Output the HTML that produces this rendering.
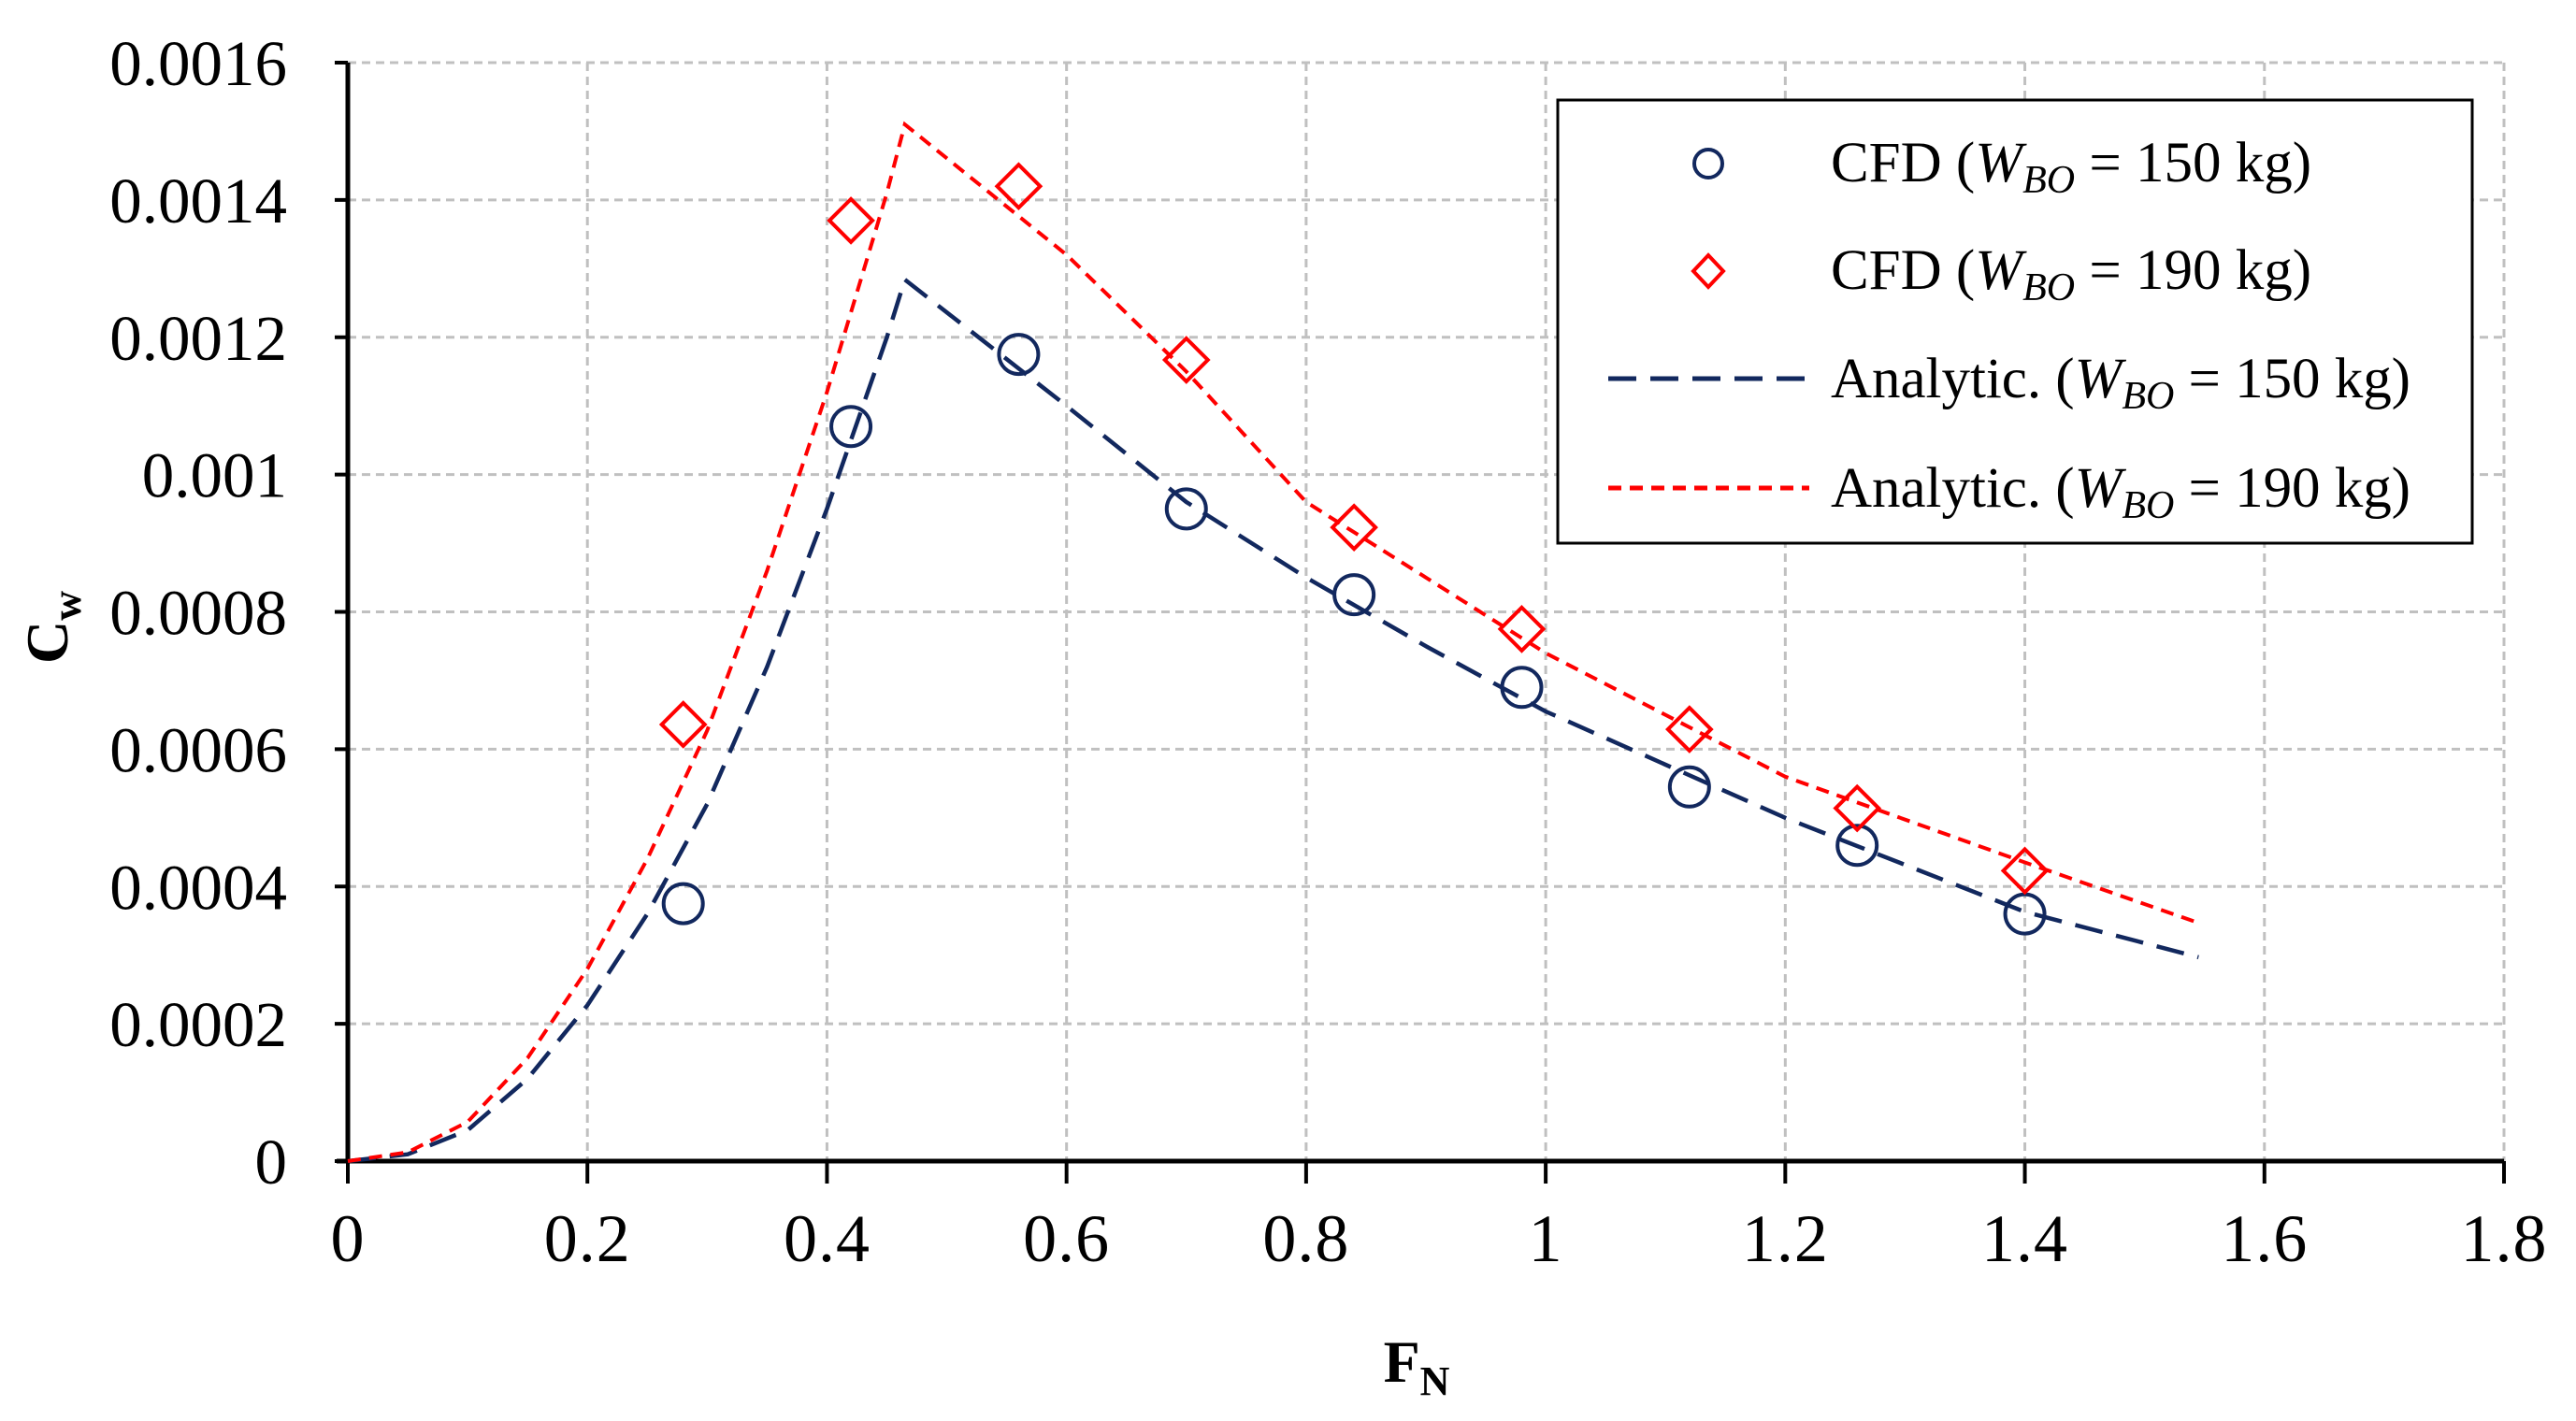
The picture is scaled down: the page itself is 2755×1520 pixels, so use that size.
<!DOCTYPE html>
<html><head><meta charset="utf-8"><style>
html,body{margin:0;padding:0;background:#fff;}
svg{display:block;font-family:"Liberation Serif",serif;}
</style></head><body>
<svg id="chart" width="2755" height="1520" viewBox="0 0 2755 1520" xmlns="http://www.w3.org/2000/svg">
<g id="grid"></g>
<g id="axes"></g>
<g id="series"></g>
<text transform="translate(72,671) rotate(-90)" text-anchor="middle" font-size="64" font-weight="bold">C<tspan font-size="44" dy="14">w</tspan></text>
<text x="1515" y="1478" text-anchor="middle" font-size="64" font-weight="bold">F<tspan font-size="44" dy="14">N</tspan></text>
<g>
<rect x="1666" y="107" width="978" height="474" fill="#fff" stroke="#000" stroke-width="3"/>
<g>
<circle cx="1827" cy="175" r="15" fill="none" stroke="#12285e" stroke-width="4"/>
<text x="1958" y="194" font-size="61">CFD (<tspan font-style="italic">W</tspan><tspan font-style="italic" font-size="42" dy="12">BO</tspan><tspan dy="-12"> = 150 kg)</tspan></text></g>
<g>
<polygon points="1827,273 1843,290 1827,307 1811,290" fill="none" stroke="#ff0000" stroke-width="4"/>
<text x="1958" y="309" font-size="61">CFD (<tspan font-style="italic">W</tspan><tspan font-style="italic" font-size="42" dy="12">BO</tspan><tspan dy="-12"> = 190 kg)</tspan></text></g>
<g>
<line x1="1720" y1="405" x2="1935" y2="405" stroke="#12285e" stroke-width="5" stroke-dasharray="30,15"/>
<text x="1958" y="425" font-size="61" textLength="620" lengthAdjust="spacing">Analytic. (<tspan font-style="italic">W</tspan><tspan font-style="italic" font-size="42" dy="12">BO</tspan><tspan dy="-12"> = 150 kg)</tspan></text></g>
<g>
<line x1="1720" y1="522" x2="1935" y2="522" stroke="#ff0000" stroke-width="5" stroke-dasharray="14,9"/>
<text x="1958" y="542" font-size="61" textLength="620" lengthAdjust="spacing">Analytic. (<tspan font-style="italic">W</tspan><tspan font-style="italic" font-size="42" dy="12">BO</tspan><tspan dy="-12"> = 190 kg)</tspan></text></g>
</g>
</svg>
<script>
const xTicks=[0,0.2,0.4,0.6,0.8,1,1.2,1.4,1.6,1.8];
const xTickLabels=["0","0.2","0.4","0.6","0.8","1","1.2","1.4","1.6","1.8"];
const yTicks=[0,0.0002,0.0004,0.0006,0.0008,0.001,0.0012,0.0014,0.0016];
const yTickLabels=["0","0.0002","0.0004","0.0006","0.0008","0.001","0.0012","0.0014","0.0016"];
const cfdX=[0.28,0.42,0.56,0.70,0.84,0.98,1.12,1.26,1.40];
const cfd150=[0.000375,0.00107,0.001175,0.00095,0.000825,0.00069,0.000545,0.00046,0.00036];
const cfd190=[0.000636,0.00137,0.00142,0.001167,0.000923,0.000775,0.000629,0.000514,0.000423];
const anaX=[0,0.05,0.1,0.15,0.2,0.25,0.3,0.35,0.4,0.45,0.465,0.6,0.7,0.8,0.9,1.0,1.2,1.4,1.545];
const ana150=[0,0.00001,0.000045,0.00012,0.000227,0.00036,0.00052,0.00072,0.00095,0.0012,0.001284,0.0011,0.00096,0.00085,0.00075,0.000655,0.0005,0.000363,0.000297];
const ana190=[0,0.000013,0.000057,0.00015,0.00028,0.00044,0.000627,0.00086,0.00112,0.00141,0.00151,0.00132,0.00115,0.00096,0.00085,0.00074,0.00056,0.000435,0.000347];
const X0=372,X1=2678,Y0=1242,Y1=67;
function sx(v){return X0+(v-0)/(1.8-0)*(X1-X0);}
function sy(v){return Y0-(v-0)/(0.0016-0)*(Y0-Y1);}
const NS="http://www.w3.org/2000/svg";
function mk(tag,attrs,parent){const e=document.createElementNS(NS,tag);for(const k in attrs)e.setAttribute(k,attrs[k]);parent.appendChild(e);return e;}
const grid=document.getElementById('grid'),axes=document.getElementById('axes'),series=document.getElementById('series');
xTicks.forEach((t,i)=>{
  if(i>0){const g=mk('line',{x1:sx(t),y1:Y1,x2:sx(t),y2:Y0,stroke:'#c0c0c0','stroke-width':3,'stroke-dasharray':'9,6'},grid);
  
  }
  const tk=mk('line',{x1:sx(t),y1:Y0,x2:sx(t),y2:Y0+24,stroke:'#000','stroke-width':4},axes);
  
  
  const tl=mk('text',{x:sx(t),y:Y0+107,'text-anchor':'middle','font-size':72,'letter-spacing':1},axes);
  
  
  tl.textContent=xTickLabels[i];
});
yTicks.forEach((t,i)=>{
  if(i>0){const g=mk('line',{x1:X0,y1:sy(t),x2:X1,y2:sy(t),stroke:'#c0c0c0','stroke-width':3,'stroke-dasharray':'9,6'},grid);
  
  }
  const tk=mk('line',{x1:X0-14,y1:sy(t),x2:X0,y2:sy(t),stroke:'#000','stroke-width':4},axes);
  
  
  const tl=mk('text',{x:X0-65,y:sy(t)+24,'text-anchor':'end','font-size':69},axes);
  
  
  tl.textContent=yTickLabels[i];
});
const ya=mk('line',{x1:X0,y1:Y1,x2:X0,y2:Y0,stroke:'#000','stroke-width':5},axes);


const xa=mk('line',{x1:X0-12,y1:Y0,x2:X1,y2:Y0,stroke:'#000','stroke-width':5},axes);


function pts(xs,ys){return xs.map((x,i)=>sx(x).toFixed(1)+','+sy(ys[i]).toFixed(1)).join(' ');}
const l150=mk('polyline',{points:pts(anaX,ana150),fill:'none',stroke:'#12285e','stroke-width':4.5,'stroke-dasharray':'30,15'},series);


const l190=mk('polyline',{points:pts(anaX,ana190),fill:'none',stroke:'#ff0000','stroke-width':4,'stroke-dasharray':'14,9'},series);


cfdX.forEach((x,i)=>{
  const c=mk('circle',{cx:sx(x),cy:sy(cfd150[i]),r:21,fill:'none',stroke:'#12285e','stroke-width':4},series);
  
  
  const cx=sx(x),cy=sy(cfd190[i]),d=23;
  const p=mk('polygon',{points:`${cx},${cy-d} ${cx+d},${cy} ${cx},${cy+d} ${cx-d},${cy}`,fill:'none',stroke:'#ff0000','stroke-width':4},series);
  
  
});
</script>
</body></html>
